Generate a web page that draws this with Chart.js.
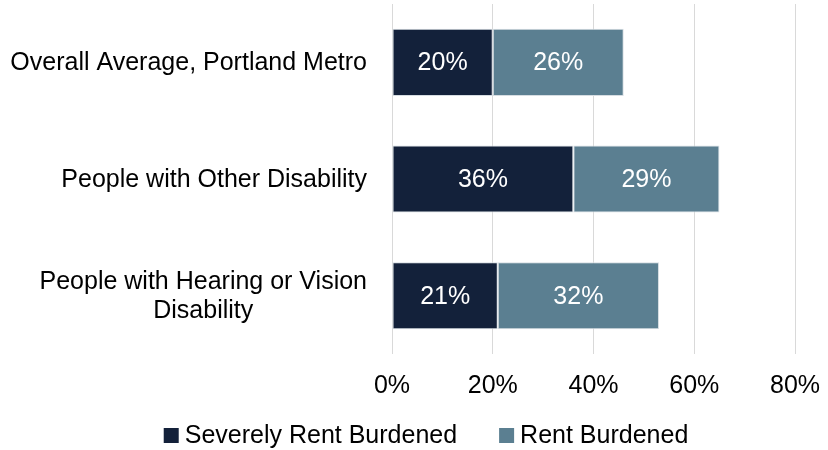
<!DOCTYPE html>
<html>
<head>
<meta charset="utf-8">
<script src="https://cdn.jsdelivr.net/npm/chart.js@4.4.1/dist/chart.umd.min.js"></script>
<style>
  html, body { margin: 0; padding: 0; background: #fff; }
  #wrap { width: 828px; height: 450px; }
</style>
</head>
<body>
<div id="wrap"><canvas id="chart"></canvas></div>
<script>
const categories = [
  ["Overall Average, Portland Metro"],
  ["People with Other Disability"],
  ["People with Hearing or Vision", "Disability"],
];
const severelyBurdened = [20, 36, 21];
const rentBurdened = [26, 29, 32];
const xTicks = [0, 20, 40, 60, 80];

const FONT = "'Liberation Sans', Arial, sans-serif";
const FONT_SIZE = 25;

// white value labels in the middle of each bar segment
const segmentLabels = {
  id: "segmentLabels",
  afterDatasetsDraw(chart) {
    const ctx = chart.ctx;
    ctx.save();
    ctx.fillStyle = "#ffffff";
    ctx.font = FONT_SIZE + "px " + FONT;
    ctx.textAlign = "center";
    ctx.textBaseline = "middle";
    chart.data.datasets.forEach((ds, i) => {
      chart.getDatasetMeta(i).data.forEach((bar, j) => {
        const x = (bar.x + bar.base) / 2;
        ctx.fillText(ds.data[j] + "%", x, bar.y + 1);
      });
    });
    ctx.restore();
  },
};

// category labels, each line centred on the block's own width
const categoryLabels = {
  id: "categoryLabels",
  afterDraw(chart) {
    const ctx = chart.ctx;
    const y = chart.scales.y;
    const right = chart.chartArea.left - 25;
    const lh = 29;
    ctx.save();
    ctx.fillStyle = "#000000";
    ctx.font = FONT_SIZE + "px " + FONT;
    ctx.textBaseline = "middle";
    ctx.textAlign = "center";
    categories.forEach((lines, i) => {
      const maxW = Math.max(...lines.map((l) => ctx.measureText(l).width));
      const cx = right - maxW / 2;
      const cy = y.getPixelForTick(i);
      const top = cy - ((lines.length - 1) * lh) / 2;
      lines.forEach((l, k) => ctx.fillText(l, cx, top + k * lh + 1));
    });
    ctx.restore();
  },
};

// legend row under the axis: square swatch, then series name
const bottomLegend = {
  id: "bottomLegend",
  afterDraw(chart) {
    const ctx = chart.ctx;
    const box = 15, gap = 6, itemGap = 42;
    const cy = 435.5;
    ctx.save();
    ctx.font = FONT_SIZE + "px " + FONT;
    ctx.textBaseline = "middle";
    ctx.textAlign = "left";
    const items = chart.data.datasets.map((ds) => ({
      text: ds.label,
      color: ds.backgroundColor,
      w: box + gap + ctx.measureText(ds.label).width,
    }));
    const total = items.reduce((s, it) => s + it.w, 0) + itemGap * (items.length - 1);
    let x = (chart.width + 24) / 2 - total / 2;
    items.forEach((it) => {
      ctx.fillStyle = it.color;
      ctx.fillRect(x, cy - box / 2, box, box);
      ctx.fillStyle = "#000000";
      ctx.fillText(it.text, x + box + gap, cy + 1);
      x += it.w + itemGap;
    });
    ctx.restore();
  },
};

new Chart(document.getElementById("chart"), {
  type: "bar",
  data: {
    labels: categories,
    datasets: [
      {
        label: "Severely Rent Burdened",
        data: severelyBurdened,
        backgroundColor: "#13213a",
        borderColor: "#d6dde2",
        borderWidth: 1,
        borderSkipped: false,
        categoryPercentage: 0.575,
        barPercentage: 1,
      },
      {
        label: "Rent Burdened",
        data: rentBurdened,
        backgroundColor: "#5b7f91",
        borderColor: "#d6dde2",
        borderWidth: 1,
        borderSkipped: false,
        categoryPercentage: 0.575,
        barPercentage: 1,
      },
    ],
  },
  options: {
    indexAxis: "y",
    responsive: true,
    maintainAspectRatio: false,
    animation: false,
    layout: { padding: { top: 4, right: 33, bottom: 32, left: 0 } },
    scales: {
      x: {
        stacked: true,
        min: 0,
        max: 80,
        afterBuildTicks: (scale) => {
          scale.ticks = xTicks.map((v) => ({ value: v }));
        },
        afterFit: (scale) => {
          scale.paddingLeft = 0;
          scale.paddingRight = 0;
        },
        ticks: {
          color: "#000",
          font: { family: FONT, size: FONT_SIZE },
          padding: 17,
          maxRotation: 0,
          callback: (v) => v + "%",
        },
        grid: { color: "#d9d9d9", lineWidth: 1, drawTicks: false },
        border: { display: false },
      },
      y: {
        stacked: true,
        afterFit: (scale) => { scale.width = 392; },
        ticks: { display: false },
        grid: { display: false },
        border: { display: false },
      },
    },
    plugins: {
      legend: { display: false },
      tooltip: { enabled: false },
    },
  },
  plugins: [segmentLabels, categoryLabels, bottomLegend],
});
</script>
</body>
</html>
